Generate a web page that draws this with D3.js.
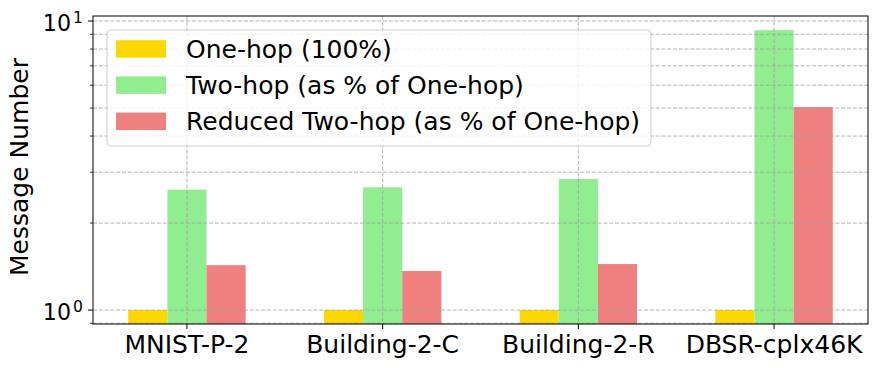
<!DOCTYPE html>
<html><head><meta charset="utf-8">
<script src="https://cdn.jsdelivr.net/npm/d3@7"></script>
<style>body{margin:0;background:#fff}svg{display:block;font-family:"DejaVu Sans",sans-serif}</style>
</head><body><svg id="c" width="878" height="368"></svg>
<script>
const categories = ["MNIST-P-2", "Building-2-C", "Building-2-R", "DBSR-cplx46K"];
const seriesNames = ["One-hop (100%)", "Two-hop (as % of One-hop)", "Reduced Two-hop (as % of One-hop)"];
const oneHop = [1.0, 1.0, 1.0, 1.0];
const twoHop = [2.61, 2.66, 2.84, 9.3];
const reducedTwoHop = [1.43, 1.365, 1.443, 5.04];
const colors = ["#FFD700", "#90EE90", "#F08080"];
const yTicks = [1, 10];
const yLabel = "Message Number";

const series = [oneHop, twoHop, reducedTwoHop];
const svg = d3.select("#c");
const L = 93, R = 868, T = 16, B = 324;
const FS = 25, TFS = 22.2;
const x = d3.scaleLinear().domain([-0.48, 3.48]).range([L, R]);
const y = d3.scaleLog().domain([0.895, 10.41]).range([B, T]);
const barW = 0.2;

const minor = [];
for (const d of [0.1, 1]) for (let k = 2; k <= 9; k++) { const v = d * k; if (v >= 0.895 && v <= 10.41) minor.push(v); }

// bars
series.forEach((s, j) => {
  svg.append("g").attr("fill", colors[j]).selectAll("rect").data(s).join("rect")
    .attr("x", (d, i) => x(i + (j - 1) * barW - barW / 2))
    .attr("width", (d, i) => x(i + (j - 1) * barW + barW / 2) - x(i + (j - 1) * barW - barW / 2))
    .attr("y", d => y(d)).attr("height", d => B - y(d));
});
// grid drawn over bars, as in the reference
const grid = svg.append("g").attr("stroke", "#a0a0a0").attr("stroke-width", 0.8).attr("stroke-dasharray", "4,1.8");
yTicks.concat(minor).forEach(v => grid.append("line").attr("x1", L).attr("x2", R).attr("y1", y(v)).attr("y2", y(v)));
categories.forEach((c, i) => grid.append("line").attr("x1", x(i)).attr("x2", x(i)).attr("y1", T).attr("y2", B));

// frame
svg.append("rect").attr("x", L).attr("y", T).attr("width", R - L).attr("height", B - T).attr("fill", "none").attr("stroke", "#000").attr("stroke-width", 1);

// y ticks
const yax = svg.append("g");
yTicks.forEach(v => {
  yax.append("line").attr("x1", L - 5).attr("x2", L).attr("y1", y(v)).attr("y2", y(v)).attr("stroke", "#000");
  const t = yax.append("text").attr("x", L - 10).attr("y", y(v) + 10).attr("text-anchor", "end").attr("font-size", TFS).attr("fill", "#000");
  t.append("tspan").text("10");
  t.append("tspan").attr("dx", 2).attr("dy", -8.5).attr("font-size", 15.6).text(String(Math.round(Math.log10(v))));
});
minor.forEach(v => yax.append("line").attr("x1", L - 3).attr("x2", L).attr("y1", y(v)).attr("y2", y(v)).attr("stroke", "#000").attr("stroke-width", 0.8));

// x ticks
categories.forEach((c, i) => {
  svg.append("line").attr("x1", x(i)).attr("x2", x(i)).attr("y1", B).attr("y2", B + 5).attr("stroke", "#000");
  svg.append("text").attr("x", x(i)).attr("y", 353).attr("text-anchor", "middle").attr("font-size", FS).attr("fill", "#000").text(c);
});

// y label
svg.append("text").attr("transform", `translate(28,${(T + B) / 2 - 3}) rotate(-90)`).attr("text-anchor", "middle").attr("font-size", FS).attr("fill", "#000").text(yLabel);

// legend
const lg = svg.append("g");
lg.append("rect").attr("x", 107).attr("y", 30).attr("width", 544).attr("height", 116).attr("rx", 4)
  .attr("fill", "#fff").attr("fill-opacity", 0.8).attr("stroke", "#cccccc").attr("stroke-width", 1);
seriesNames.forEach((n, j) => {
  const cy = 49 + j * 36.2;
  lg.append("rect").attr("x", 116).attr("y", cy - 8.8).attr("width", 50).attr("height", 17.5).attr("fill", colors[j]);
  lg.append("text").attr("x", 186).attr("y", cy + 8.5).attr("font-size", FS).attr("fill", "#000").text(n);
});
</script></body></html>
